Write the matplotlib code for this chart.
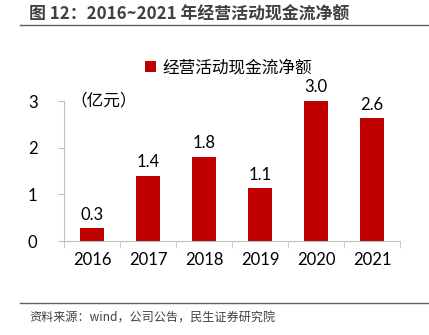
import matplotlib
matplotlib.use("Agg")
import matplotlib.pyplot as plt
from matplotlib.lines import Line2D

plt.rcParams['font.family'] = ['Noto Sans CJK SC', 'DejaVu Sans']

years = ['2016', '2017', '2018', '2019', '2020', '2021']
values = [0.27, 1.4, 1.8, 1.13, 3.0, 2.63]
labels = ['0.3', '1.4', '1.8', '1.1', '3.0', '2.6']
yticks = [0, 1, 2, 3]

num_font = ['Lato', 'DejaVu Sans']

fig = plt.figure(figsize=(4.29, 3.35), dpi=100)
ax = fig.add_axes([64/429, 1-241/335, 336/429, 140/335])
x = list(range(len(years)))
ax.bar(x, values, width=0.42, color='#C00000', label='经营活动现金流净额', zorder=2)
for xi, v, l in zip(x, values, labels):
    ax.annotate(l, (xi, v), xytext=(0, 4), textcoords='offset points',
                ha='center', va='bottom', fontsize=12, color='black', family=num_font)
ax.set_xlim(-0.5, 5.5)
ax.set_ylim(0, 3)
ax.set_xticks(x)
ax.set_xticklabels(years, fontsize=12, family=num_font)
ax.set_xticks([i - 0.5 for i in range(len(years) + 1)], minor=True)
ax.set_yticks(yticks)
ax.set_yticklabels([str(t) for t in yticks], fontsize=12, family=num_font)
for s in ['top', 'right']:
    ax.spines[s].set_visible(False)
ax.spines['left'].set_color('#BFBFBF')
ax.spines['bottom'].set_color('#BFBFBF')
ax.tick_params(axis='y', direction='out', length=4, color='#BFBFBF', pad=15)
ax.tick_params(axis='x', which='major', length=0, pad=8)
ax.tick_params(axis='x', which='minor', length=5, color='#BFBFBF', direction='out')

ax.text(0.02, 1.0, '（亿元）', transform=ax.transAxes, fontsize=12, va='center', ha='left')
ax.legend(loc='lower center', bbox_to_anchor=(0.49, 1.07), frameon=False,
          fontsize=12, handlelength=0.65, handleheight=0.65, handletextpad=0.35)

fig.text(29/429, 1-15/335, '图 12：2016~2021 年经营活动现金流净额', fontsize=12.2,
         fontweight='bold', color='#404040', va='center', ha='left')
fig.add_artist(Line2D([20/429, 1], [1-25/335, 1-25/335], color='#606060', lw=1))
fig.add_artist(Line2D([20/429, 1], [1-303/335, 1-303/335], color='#606060', lw=1))
fig.text(29/429, 1-318/335, '资料来源：wind，公司公告，民生证券研究院', fontsize=8.7,
         color='#404040', va='center', ha='left')

fig.savefig('out.png', dpi=100)
